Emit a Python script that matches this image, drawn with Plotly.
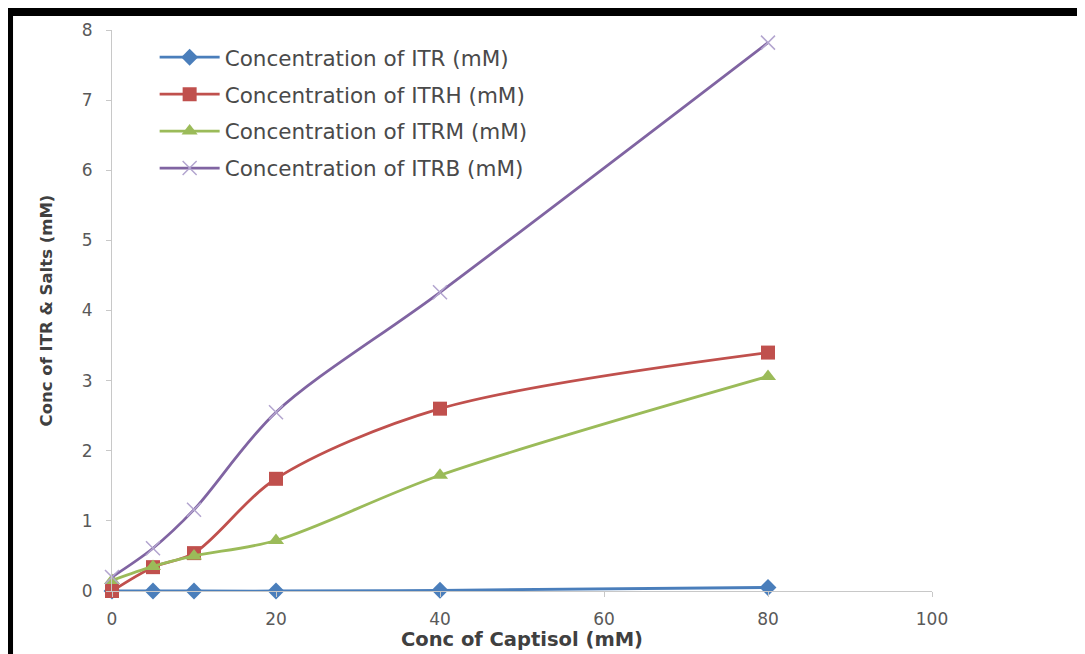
import plotly.graph_objects as go

captisol = [0, 5, 10, 20, 40, 80]
itr = [0.0, 0.0, 0.0, 0.0, 0.01, 0.05]
itrh = [0.0, 0.34, 0.54, 1.6, 2.6, 3.4]
itrm = [0.15, 0.35, 0.5, 0.72, 1.65, 3.06]
itrb = [0.2, 0.61, 1.16, 2.55, 4.26, 7.82]

names = ["Concentration of ITR (mM)", "Concentration of ITRH (mM)",
         "Concentration of ITRM (mM)", "Concentration of ITRB (mM)"]
x_ticks = [0, 20, 40, 60, 80, 100]
y_ticks = [0, 1, 2, 3, 4, 5, 6, 7, 8]

FONT = "DejaVu Sans"
fig = go.Figure()

styles = [
    dict(color="#4a7ebb", symbol="diamond", size=13, lw=0),
    dict(color="#c0504d", symbol="square", size=14, lw=0),
    dict(color="#9bbb59", symbol="triangle-up", size=14, lw=0),
    dict(color="#8064a2", symbol="x-thin", size=14, lw=1.5),
]
series = [itr, itrh, itrm, itrb]

for i, (nm, ys, st) in enumerate(zip(names, series, styles)):
    marker = dict(symbol=st["symbol"], size=st["size"], color=st["color"])
    if st["lw"]:
        marker["line"] = dict(width=st["lw"], color="#b3a5cf")
    fig.add_trace(go.Scatter(
        x=captisol, y=ys, name=nm, mode="lines+markers",
        line=dict(color=st["color"], width=2.8, shape="spline", smoothing=0.9),
        marker=marker, legendgroup=f"g{i}", cliponaxis=False,
    ))

fig.update_layout(
    width=1085, height=654,
    paper_bgcolor="white", plot_bgcolor="white",
    margin=dict(l=104, r=161, t=19, b=71),
    font=dict(family=FONT, color="#595959", size=17),
    showlegend=True,
    legend=dict(x=0.052, y=0.988, xanchor="left", yanchor="top",
                bgcolor="rgba(0,0,0,0)", font=dict(size=21.5, color="#4a4a4a", family=FONT),
                tracegroupgap=6, itemwidth=60),
    xaxis=dict(range=[0, 100], tickvals=x_ticks, showgrid=False, zeroline=False,
               showline=True, linecolor="#c8c8c8", linewidth=1.2,
               ticks="outside", ticklen=5, tickcolor="#c8c8c8",
               ticklabelstandoff=7,
               tickfont=dict(size=17, color="#595959", family=FONT),
               title=dict(text="<b>Conc of Captisol (mM)</b>", standoff=0,
                          font=dict(size=19.5, color="#404040", family=FONT))),
    yaxis=dict(range=[0, 8], tickvals=y_ticks, showgrid=False, zeroline=False,
               showline=True, linecolor="#c8c8c8", linewidth=1.2,
               ticks="outside", ticklen=5, tickcolor="#c8c8c8",
               ticklabelstandoff=10,
               tickfont=dict(size=17, color="#595959", family=FONT),
               title=dict(text="<b>Conc of ITR &amp; Salts (mM)</b>", standoff=24,
                          font=dict(size=16.5, color="#404040", family=FONT))),
)

# black frame of the screenshot (top and left)
fig.add_shape(type="rect", xref="paper", yref="paper",
              x0=-0.14, x1=1.25, y0=1.0248, y1=1.04,
              fillcolor="black", line=dict(width=0), layer="above")
fig.add_shape(type="rect", xref="paper", yref="paper",
              x0=-0.14, x1=-0.1207, y0=-0.15, y1=1.04,
              fillcolor="black", line=dict(width=0), layer="above")

fig.write_html("out.html")
